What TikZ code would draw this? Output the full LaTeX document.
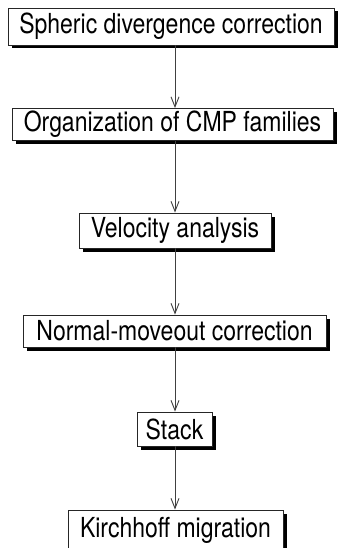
\documentclass[tikz,border=0pt]{standalone}
\usepackage{fontspec}
\usepackage{graphicx}
\setmainfont{TeX Gyre Heros}
\usetikzlibrary{shadows,arrows.meta}
\newcommand{\tallt}[1]{\scalebox{1}[1.2]{#1}}
\tikzset{
  stepbox/.style={draw=black!85, line width=0.9pt, fill=white, inner sep=0pt,
    font=\fontsize{23}{27}\selectfont, anchor=center,
    drop shadow={shadow xshift=3.5pt, shadow yshift=-3.5pt, fill=black, opacity=1}},
  flow/.style={draw=black!75, line width=0.9pt, -{Straight Barb[length=10pt,width=8pt,line width=0.9pt]}}
}
\begin{document}
\begin{tikzpicture}[x=1pt,y=-1pt]
\useasboundingbox (0,0) rectangle (339,548);
\node[stepbox, minimum width=326pt, minimum height=37pt] (a) at (171,26.5) {\tallt{Spheric divergence correction}};
\node[stepbox, minimum width=321pt, minimum height=32pt] (b) at (172.5,124.5) {\tallt{Organization of CMP families}};
\node[stepbox, minimum width=192pt, minimum height=35pt] (c) at (175,230.5) {\tallt{Velocity analysis}};
\node[stepbox, minimum width=303pt, minimum height=32pt] (d) at (174.5,331) {\tallt{Normal-moveout correction}};
\node[stepbox, minimum width=75pt, minimum height=34pt] (e) at (174.5,429) {\tallt{Stack}};
\node[stepbox, minimum width=215pt, minimum height=40pt] (f) at (175.5,530) {\tallt{Kirchhoff migration}};
\draw[flow] (a.south -| 175,0) -- (b.north -| 175,0);
\draw[flow] (b.south -| 175,0) -- (c.north -| 175,0);
\draw[flow] (c.south) -- (d.north -| c.south);
\draw[flow] (d.south -| c.south) -- (e.north -| c.south);
\draw[flow] (e.south -| c.south) -- (f.north -| c.south);
\end{tikzpicture}
\end{document}
